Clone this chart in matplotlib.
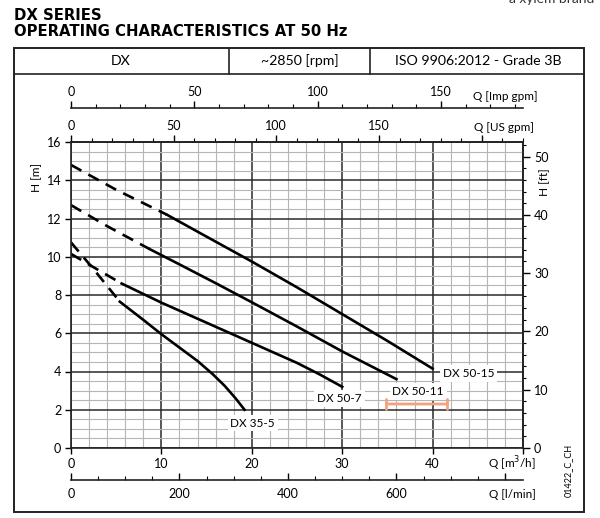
import matplotlib.pyplot as plt
from matplotlib.patches import Rectangle
from matplotlib.lines import Line2D
from matplotlib.ticker import MultipleLocator

plt.rcParams['font.family'] = ['Lato', 'DejaVu Sans']

# pump curves: Q [m3/h], H [m]; first `dash_n` points are the dashed part
q_50_15 = [0, 5, 10.6, 15, 20, 25, 30, 35, 40]
h_50_15 = [14.8, 13.5, 12.2, 11.05, 9.75, 8.4, 7.0, 5.6, 4.15]
q_50_11 = [0, 4, 8.7, 12, 16, 20, 25, 30, 36]
h_50_11 = [12.7, 11.6, 10.4, 9.6, 8.62, 7.62, 6.35, 5.05, 3.6]
q_50_7 = [0, 2.5, 5.6, 10, 15, 20, 25, 27.5, 30]
h_50_7 = [10.15, 9.45, 8.6, 7.6, 6.55, 5.5, 4.45, 3.85, 3.2]
q_35_5 = [0, 2.5, 5.4, 8, 10, 12, 14, 15.7, 17, 18.2, 19.2]
h_35_5 = [10.75, 9.35, 7.65, 6.7, 5.95, 5.25, 4.55, 3.85, 3.25, 2.6, 2.0]

pumps = ["DX 50-15", "DX 50-11", "DX 50-7", "DX 35-5"]
q_all = [q_50_15, q_50_11, q_50_7, q_35_5]
h_all = [h_50_15, h_50_11, h_50_7, h_35_5]
dash_n = [3, 3, 3, 3]

header = ["DX", "~2850 [rpm]", "ISO 9906:2012 - Grade 3B"]

W, H = 600, 518
fig = plt.figure(figsize=(6, 5.18), dpi=100)

def fx(px):
    return px / W

def fy(py):
    return 1 - py / H

# title + frame
title_kw = dict(fontsize=10.7, fontweight='bold', va='center', family='DejaVu Sans')
fig.text(fx(14), fy(15), "DX SERIES", **title_kw)
fig.text(fx(14), fy(32), "OPERATING CHARACTERISTICS AT 50 Hz", **title_kw)
fig.text(fx(594), fy(-1), "a xylem brand", fontsize=10, ha='right', va='center', color='#333')

fig.patches.append(Rectangle((fx(14), fy(512)), fx(584) - fx(14), fy(48) - fy(512),
                             transform=fig.transFigure, fill=False, lw=1.4, ec='#222'))
fig.lines.append(Line2D([fx(14), fx(584)], [fy(74), fy(74)], transform=fig.transFigure, lw=1.2, c='#222'))
for xd in (229, 370):
    fig.lines.append(Line2D([fx(xd), fx(xd)], [fy(48), fy(74)], transform=fig.transFigure, lw=1.2, c='#222'))
for xc, t in zip((121, 300, 478), header):
    fig.text(fx(xc), fy(61), t, fontsize=10.2, ha='center', va='center')

# main chart
ax = fig.add_axes([fx(71), fy(448), fx(523) - fx(71), fy(142) - fy(448)])
ax.set_xlim(0, 50)
ax.set_ylim(0, 16)
ax.set_xticks(range(0, 51, 10), labels=['0', '10', '20', '30', '40', ''])
ax.set_yticks(range(0, 17, 2))
ax.xaxis.set_minor_locator(MultipleLocator(2))
ax.yaxis.set_minor_locator(MultipleLocator(0.5))
ax.grid(which='minor', color='#b5b5b5', lw=0.8)
ax.grid(which='major', color='#2a2a2a', lw=1.1)
ax.set_axisbelow(True)
ax.tick_params(which='minor', length=0)
ax.tick_params(which='major', direction='out', length=4, width=1, labelsize=9, pad=3)
ax.tick_params(top=False, right=False)
for s in ax.spines.values():
    s.set_linewidth(1.2)
    s.set_color('#222')

for name, q, h, n in zip(pumps, q_all, h_all, dash_n):
    ax.plot(q[:n], h[:n], color='black', lw=1.9, ls=(0, (4.5, 3)), solid_capstyle='butt')
    ax.plot(q[n - 1:], h[n - 1:], color='black', lw=1.9)

lab_kw = dict(fontsize=8.5, ha='center', va='center',
              bbox=dict(fc='white', ec='none', pad=2))
ax.text(44.0, 3.9, pumps[0], **lab_kw)
ax.text(38.4, 2.95, pumps[1], **lab_kw)
ax.text(29.7, 2.6, pumps[2], **lab_kw)
ax.text(20.1, 1.3, pumps[3], **lab_kw)
ax.annotate('', xy=(34.9, 2.3), xytext=(41.6, 2.3),
            arrowprops=dict(arrowstyle='|-|,widthA=0.35,widthB=0.35', color='#f2a27e', lw=2,
                            shrinkA=0, shrinkB=0))

# extra scales
us = ax.secondary_xaxis('top', functions=(lambda x: x * 4.40287, lambda x: x / 4.40287))
us.set_xticks([0, 50, 100, 150, 200], labels=['0', '50', '100', '150', ''])
us.xaxis.set_minor_locator(MultipleLocator(10))
us.tick_params(which='major', length=5, width=1, labelsize=9, pad=2)
us.tick_params(which='minor', length=3, width=0.8)

imp = ax.secondary_xaxis(1 + 34 / 306, functions=(lambda x: x * 3.66614, lambda x: x / 3.66614))
imp.set_xticks([0, 50, 100, 150])
imp.xaxis.set_minor_locator(MultipleLocator(10))
imp.tick_params(which='major', length=5, width=1, labelsize=9, pad=2)
imp.tick_params(which='minor', length=3, width=0.8)

lpm = ax.secondary_xaxis(-32 / 306, functions=(lambda x: x * 16.6667, lambda x: x / 16.6667))
lpm.set_xticks([0, 200, 400, 600, 800], labels=['0', '200', '400', '600', ''])
lpm.xaxis.set_minor_locator(MultipleLocator(50))
lpm.tick_params(which='major', direction='in', length=5, width=1, labelsize=9, pad=6)
lpm.tick_params(which='minor', direction='in', length=3, width=0.8)

ft = ax.secondary_yaxis('right', functions=(lambda y: y * 3.28084, lambda y: y / 3.28084))
ft.set_yticks(range(0, 51, 10))
ft.yaxis.set_minor_locator(MultipleLocator(2))
ft.tick_params(which='major', length=5, width=1, labelsize=9, pad=3)
ft.tick_params(which='minor', length=2.5, width=0.8)

for sec in (us, imp, lpm, ft):
    for s in sec.spines.values():
        s.set_linewidth(1.2)
        s.set_color('#222')

# axis names
fig.text(fx(505), fy(96), "Q [Imp gpm]", fontsize=8.5, ha='center', va='center')
fig.text(fx(504), fy(127), "Q [US gpm]", fontsize=8.5, ha='center', va='center')
fig.text(fx(512), fy(464), "Q [m$^3$/h]", fontsize=8.5, ha='center', va='center')
fig.text(fx(512), fy(494), "Q [l/min]", fontsize=8.5, ha='center', va='center')
fig.text(fx(37), fy(177), "H [m]", fontsize=8.5, rotation=90, ha='center', va='center')
fig.text(fx(545), fy(182), "H [ft]", fontsize=8.5, rotation=90, ha='center', va='center')
fig.text(fx(568), fy(470), "01422_C_CH", fontsize=6.5, rotation=90, ha='center', va='center')

fig.savefig('out.png', dpi=100)
